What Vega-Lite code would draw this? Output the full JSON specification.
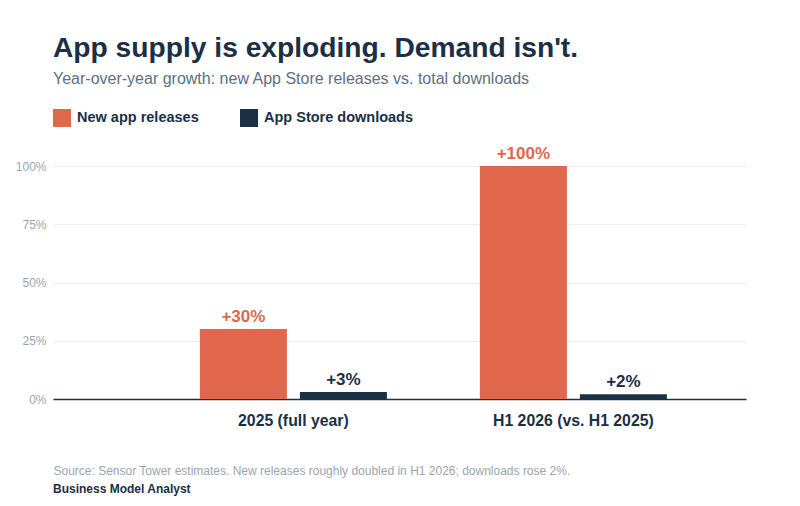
{
  "$schema": "https://vega.github.io/schema/vega-lite/v6.json",
  "width": 693,
  "height": 233,
  "padding": {"left": 53, "top": 166, "right": 54, "bottom": 107},
  "autosize": {"type": "none"},
  "background": "white",
  "title": {
    "text": "App supply is exploding. Demand isn't.",
    "subtitle": "Year-over-year growth: new App Store releases vs. total downloads",
    "anchor": "start",
    "frame": "group",
    "font": "Liberation Sans",
    "fontSize": 28.2,
    "fontWeight": "bold",
    "color": "#1b2f45",
    "subtitleFont": "Liberation Sans",
    "subtitleFontSize": 16,
    "subtitleColor": "#5f6f80",
    "subtitlePadding": 8,
    "offset": 21
  },
  "config": {
    "font": "Liberation Sans",
    "view": {"stroke": null},
    "legend": {
      "orient": "none",
      "legendX": 0,
      "legendY": -57,
      "direction": "horizontal",
      "title": null,
      "symbolType": "square",
      "symbolSize": 324,
      "symbolOpacity": 1,
      "symbolStrokeWidth": 0,
      "labelFont": "Liberation Sans",
      "labelFontSize": 14.5,
      "labelFontWeight": "bold",
      "labelColor": "#1b2f45",
      "labelOffset": 6,
      "columnPadding": 41
    }
  },
  "data": {
    "values": [
      {"period": "2025 (full year)", "series": "New app releases", "growth": 30, "label": "+30%"},
      {"period": "2025 (full year)", "series": "App Store downloads", "growth": 3, "label": "+3%"},
      {"period": "H1 2026 (vs. H1 2025)", "series": "New app releases", "growth": 100, "label": "+100%"},
      {"period": "H1 2026 (vs. H1 2025)", "series": "App Store downloads", "growth": 2, "label": "+2%"}
    ]
  },
  "encoding": {
    "x": {
      "field": "period",
      "type": "nominal",
      "sort": null,
      "scale": {"paddingInner": 0.332, "paddingOuter": 0.4035, "align": 0.65},
      "axis": {
        "labelAngle": 0,
        "labelFontSize": 15.8,
        "labelFontWeight": "bold",
        "labelColor": "#1b2f45",
        "labelPadding": 14,
        "ticks": false,
        "domainColor": "#1b2f45",
        "domainWidth": 1.5,
        "title": "Source: Sensor Tower estimates. New releases roughly doubled in H1 2026; downloads rose 2%.",
        "titleFontSize": 12,
        "titleFontWeight": "normal",
        "titleColor": "#9aa5b1",
        "titleAnchor": "start",
        "titleAlign": "left",
        "titleX": 0,
        "titleY": 66
      }
    },
    "xOffset": {
      "field": "series",
      "type": "nominal",
      "sort": ["New app releases", "App Store downloads"],
      "scale": {"paddingInner": 0.13}
    },
    "y": {
      "field": "growth",
      "type": "quantitative",
      "scale": {"domain": [0, 100]},
      "axis": {
        "title": null,
        "values": [0, 25, 50, 75, 100],
        "labelExpr": "datum.value + '%'",
        "labelFontSize": 12,
        "labelColor": "#9aa5b1",
        "labelPadding": 7,
        "ticks": false,
        "domain": false,
        "gridColor": "#eeeeee"
      }
    },
    "color": {
      "field": "series",
      "type": "nominal",
      "sort": ["New app releases", "App Store downloads"],
      "scale": {
        "domain": ["New app releases", "App Store downloads"],
        "range": ["#e0664c", "#1b2f45"]
      }
    }
  },
  "layer": [
    {"mark": {"type": "bar"}},
    {
      "mark": {"type": "text", "baseline": "bottom", "dy": -3, "fontSize": 17, "fontWeight": "bold"},
      "encoding": {
        "text": {"field": "label", "type": "nominal"}
      }
    },
    {
      "data": {"values": [{"credit": "Business Model Analyst"}]},
      "mark": {"type": "text", "align": "left", "baseline": "middle", "fontSize": 12, "fontWeight": "bold", "color": "#1b2f45"},
      "encoding": {
        "x": {"value": 0},
        "xOffset": null,
        "y": {"value": 323},
        "color": null,
        "text": {"field": "credit", "type": "nominal"}
      }
    }
  ]
}
